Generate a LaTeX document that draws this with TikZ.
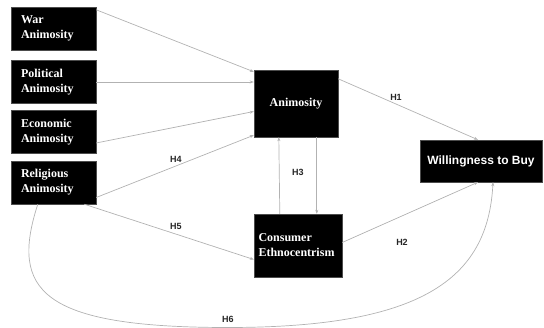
\documentclass[tikz,border=0pt]{standalone}
\usepackage{fontspec}
\setmainfont{Liberation Serif}
\setsansfont{Liberation Sans}
\usetikzlibrary{arrows.meta,calc}
\begin{document}
\begin{tikzpicture}[x=1pt,y=-1pt,
  box/.style={fill=black,draw=black!70,text=white,font=\bfseries\fontsize{12}{15}\selectfont,inner sep=0pt},
  leftbox/.style={box,minimum width=85pt,minimum height=43pt,text width=65pt,align=left},
  link/.style={draw=black!30,line width=0.7pt,-{Stealth[length=4pt,width=3pt]}},
  hlab/.style={font=\sffamily\bfseries\fontsize{9}{10}\selectfont,text=black!85}]
\useasboundingbox (0,0) rectangle (544,328);
% exogenous animosity dimensions
\node[leftbox] (war) at (53.5,28.5) {War\\Animosity};
\node[leftbox] (pol) at (53.5,82) {Political\\Animosity};
\node[leftbox] (eco) at (53.5,132) {Economic\\Animosity};
\node[leftbox] (rel) at (53.5,182.5) {Religious\\Animosity};
% central constructs
\node[box,minimum width=84pt,minimum height=67pt] (ani) at (296,103.5) {Animosity};
\node[box,minimum width=88pt,minimum height=63pt,text width=79pt,align=left] (ce) at (298,245.5) {Consumer\\Ethnocentrism};
\node[box,minimum width=122pt,minimum height=42pt,font=\sffamily\bfseries\fontsize{12}{14}\selectfont] (wtb) at (481,161) {Willingness to Buy};
% paths into animosity
\draw[link] ($(war.north east)+(0,3)$) -- ($(ani.north west)+(0,2)$);
\draw[link] (pol.east) -- (pol.east -| ani.west);
\draw[link] ($(eco.east)+(0,11)$) -- ($(ani.west)+(0,8)$);
\draw[link] ($(rel.east)+(0,15)$) -- ($(ani.south west)+(0,-2)$);
\node[hlab] (h4) at (176,159) {H4};
% animosity to willingness
\draw[link] ($(ani.north east)+(0,9)$) -- ($(wtb.north)+(-3,0)$);
\node[hlab] (h1) at (396,97) {H1};
% animosity <-> ethnocentrism
\draw[link] ($(ce.north west)+(26,0)$) -- ($(ani.south west)+(25,0)$);
\draw[link] ($(ani.south west)+(63,0)$) -- ($(ce.north west)+(63,0)$);
\node[hlab] (h3) at (298,172) {H3};
% ethnocentrism to willingness
\draw[link] ($(ce.east)+(0,-3)$) -- ($(wtb.south)+(-3,0)$);
\node[hlab] (h2) at (402,242) {H2};
% religious animosity to ethnocentrism
\draw[link] ($(rel.south east)+(-12,0)$) -- ($(ce.west)+(0,14)$);
\node[hlab] (h5) at (176,226) {H5};
% religious animosity to willingness
\coordinate (bot) at (228,327.5);
\draw[link] ($(rel.south west)+(27,0)$) .. controls (10,290) and (40,327.5) .. (bot)
  .. controls (420,327.5) and (488,280) .. ($(wtb.south)+(12,0)$);
\node[hlab] (h6) at (228,319) {H6};
\end{tikzpicture}
\end{document}
